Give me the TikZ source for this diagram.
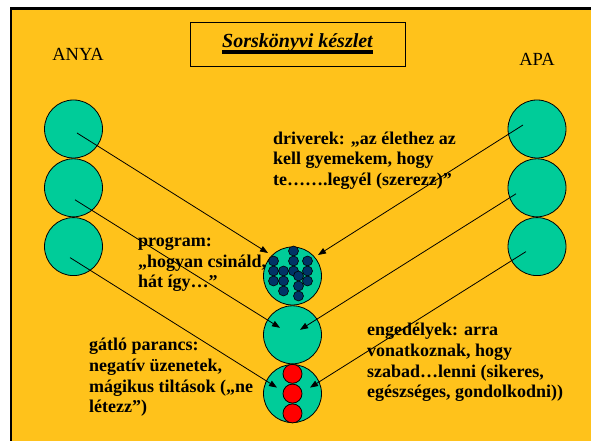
\documentclass[tikz,border=0pt]{standalone}
\usepackage{fontspec}
\setmainfont{Liberation Serif}[BoldFont={Liberation Serif Bold}, ItalicFont={Liberation Serif Italic}, BoldItalicFont={Liberation Serif Bold Italic}]
\usetikzlibrary{positioning,arrows.meta}
\definecolor{slideyellow}{HTML}{FFC21B}
\definecolor{ballgreen}{HTML}{00CC99}
\definecolor{dotblue}{HTML}{003366}
\newsavebox{\ulbox}
\newcommand{\thickul}[1]{\sbox{\ulbox}{#1}\rlap{\rule[-6pt]{\wd\ulbox}{4pt}}\usebox{\ulbox}}
\begin{document}
\begin{tikzpicture}[x=1pt, y=1pt, node distance=0pt,
    >={Triangle[length=8pt,width=6pt]},
    ball/.style={circle, draw=black, fill=ballgreen, minimum size=58pt, inner sep=0pt, line width=0.8pt},
    bead/.style={circle, draw=black, fill=red, minimum size=19pt, inner sep=0pt, line width=0.8pt},
    seed/.style={circle, draw=black, fill=dotblue, minimum size=10pt, inner sep=0pt, line width=0.6pt},
    note/.style={anchor=base west, align=left, inner sep=0pt, font=\fontsize{18}{20.7}\selectfont\bfseries},
    wire/.style={->, draw=black, line width=0.8pt}]

    \useasboundingbox (0,0) rectangle (591,441);
    \fill[slideyellow] (11,-10) rectangle (600,432.5);
    \draw[line width=2.4pt] (11,-10) |- (600,432.5);

    \node(title) [draw, line width=0.8pt, minimum width=215pt, minimum height=44pt,
        font=\fontsize{20}{24}\selectfont\bfseries\itshape] at (297.5,397) {\thickul{Sorskönyvi készlet}};
    \node(anya) [font=\fontsize{18.5}{22}\selectfont] at (78,387) {ANYA};
    \node(apa)  [font=\fontsize{18.5}{22}\selectfont] at (537,382) {APA};

    % mother and father
    \node(l1) [ball] at (73.5,312) {};
    \node(l2) [ball, below=of l1]  {};
    \node(l3) [ball, below=of l2]  {};
    \node(r1) [ball] at (537,312)  {};
    \node(r2) [ball, below=of r1]  {};
    \node(r3) [ball, below=of r2]  {};

    % the child
    \node(c1) [ball] at (292.5,165) {};
    \node(c2) [ball, below=of c1]   {};
    \node(c3) [ball, below=of c2]   {};

    \foreach \dx/\dy [count=\i] in {1/25, -19/15, 1/15, 15/15, -19/5, -9/5, 1/5, 15/5,
        6/0, -19/-5, -9/-5, 15/-5, 6/-10, -9/-15, 6/-20}
        \node(s\i) [seed] at ([shift={(\dx,\dy)}]c1.center) {};

    \node(b2) [bead] at (c3.center) {};
    \node(b1) [bead, above=of b2]   {};
    \node(b3) [bead, below=of b2]   {};

    % where the lines start and end
    \coordinate (l1s) at ([shift={(3.5,-4)}]l1.center);
    \coordinate (l2s) at ([shift={(1.5,-12)}]l2.center);
    \coordinate (l3s) at ([shift={(-3.5,-11)}]l3.center);
    \coordinate (r1s) at ([shift={(-14,4)}]r1.center);
    \coordinate (r2s) at ([shift={(-21,-6)}]r2.center);
    \coordinate (r3s) at ([shift={(-11,-5)}]r3.center);
    \coordinate (c1l) at ([shift={(-24.5,23)}]c1.center);
    \coordinate (c1r) at ([shift={(25.5,21)}]c1.center);
    \coordinate (c2l) at ([shift={(-12.5,7)}]c2.center);
    \coordinate (c2r) at ([shift={(7.5,5)}]c2.center);
    \coordinate (c3l) at ([shift={(-15.5,6)}]c3.center);
    \coordinate (c3r) at ([shift={(17.5,6)}]c3.center);

    \draw [wire] (l1s) -- (c1l);
    \draw [wire] (l2s) -- (c2l);
    \draw [wire] (l3s) -- (c3l);
    \draw [wire] (r1s) -- (c1r);
    \draw [wire] (r2s) -- (c2r);
    \draw [wire] (r3s) -- (c3r);

    % text blocks, placed by the baseline of their last line
    \node(driver) [note] at (273,255.3) {driverek: „az élethez az\\kell gyemekem, hogy\\te…….legyél (szerezz)”};
    \node(prog)   [note] at (138,153)   {program:\\„hogyan csináld,\\hát így…”};
    \node(tilt)   [note] at (89,28)     {gátló parancs:\\negatív üzenetek,\\mágikus tiltások („ne\\létezz”)};
    \node(enged)  [note] at (367,43)    {engedélyek: arra\\vonatkoznak, hogy\\szabad…lenni (sikeres,\\egészséges, gondolkodni))};

\end{tikzpicture}
\end{document}
